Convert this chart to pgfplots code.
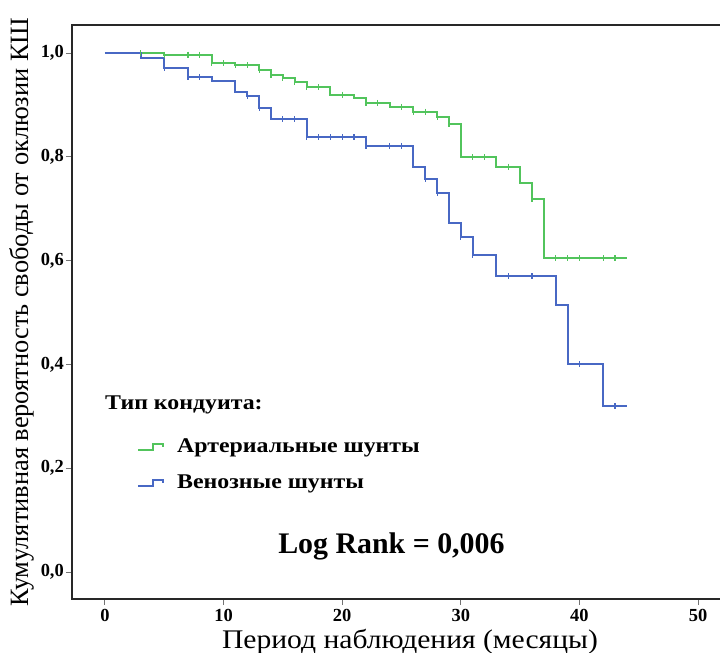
\documentclass[border=0pt]{standalone}
\usepackage{fontspec}
\setmainfont{Liberation Serif}
\newfontfamily\legfont{Liberation Serif}[FakeStretch=1.14]
\newfontfamily\labfont{Liberation Serif}[FakeStretch=1.1]
\usepackage{pgfplots}
\pgfplotsset{compat=1.18}
\definecolor{artgreen}{RGB}{82,196,92}
\definecolor{venblue}{RGB}{72,104,196}
\definecolor{frame}{RGB}{40,40,40}
\begin{document}
\begin{tikzpicture}
\begin{axis}[
  scale only axis,
  width=648bp, height=574bp,
  xmin=-2.78, xmax=51.85,
  ymin=-0.052, ymax=1.054,
  axis line style={draw=none},
  xtick={0,10,20,30,40,50},
  ytick={0,0.2,0.4,0.6,0.8,1.0},
  yticklabels={{0,0},{0,2},{0,4},{0,6},{0,8},{1,0}},
  tick pos=left,
  tick align=outside,
  major tick length=6bp,
  tick style={black!55, line width=1pt},
  /pgf/number format/assume math mode=true,
  ticklabel style={font=\bfseries\fontsize{18.5}{18.5}\selectfont},
  xticklabel style={inner sep=1bp, yshift=-3bp},
  yticklabel style={inner sep=2bp},
  xlabel={Период наблюдения (месяцы)},
  xlabel style={font=\labfont\fontsize{27}{27}\selectfont, at={([yshift=-49bp]rel axis cs:0.5216,0)}, anchor=base, inner sep=0pt},
  ylabel={Кумулятивная вероятность свободы от оклюзии КШ},
  ylabel style={font=\fontsize{26.5}{26.5}\selectfont, at={([xshift=-38bp]rel axis cs:0,0.5)}, anchor=south, inner sep=0pt},
  legend style={at={(rel axis cs:0.1003,0.281)}, anchor=north west, draw=none, fill=none,
    font=\legfont\bfseries\fontsize{21}{23}\selectfont, row sep=19bp, column sep=12bp, inner sep=0pt,
    nodes={inner sep=1bp}},
  legend cell align=left,
  legend image code/.code={\draw[#1, line width=2pt] (0bp,-3bp) -- (15bp,-3bp) -- (15bp,3bp) -- (25bp,3bp) -- (25bp,-0.5bp);},
  clip=false,
]
% Arterial grafts
\addplot[const plot, color=artgreen, line width=2pt] coordinates {
 (0,1.0) (5,0.997) (9,0.980) (11,0.976) (13,0.967) (14,0.958) (15,0.951) (16,0.945)
 (17,0.934) (19,0.920) (21,0.913) (22,0.904) (24,0.896) (26,0.887) (28,0.877) (29,0.863)
 (30,0.799) (33,0.781) (35,0.750) (36,0.718) (37,0.605) (44,0.605)};
\addlegendentry{Артериальные шунты}
% Venous grafts
\addplot[const plot, color=venblue, line width=2pt] coordinates {
 (0,1.0) (3,0.991) (5,0.972) (7,0.954) (9,0.947) (11,0.925) (12,0.918) (13,0.895)
 (14,0.872) (17,0.838) (22,0.821) (26,0.781) (27,0.757) (28,0.731) (29,0.673)
 (30,0.645) (31,0.611) (33,0.570) (38,0.514) (39,0.400) (42,0.319) (44,0.319)};
\addlegendentry{Венозные шунты}
% censored marks
\addplot[only marks, mark=|, mark size=3bp, color=artgreen, line width=1.2pt, forget plot] coordinates {
 (3,1.0) (5,0.997) (7,0.997) (8,0.997) (9,0.980) (10,0.980) (11,0.976) (12,0.976) (13,0.967)
 (14,0.958) (15,0.951) (16,0.945) (17,0.934) (18,0.934) (20,0.920) (22,0.904) (23,0.904)
 (25,0.896) (26,0.887) (27,0.887) (28,0.877) (29,0.863) (31,0.799) (32,0.799) (34,0.781)
 (36,0.718) (38,0.605) (39,0.605) (40,0.605) (42,0.605) (43,0.605)};
\addplot[only marks, mark=|, mark size=3bp, color=venblue, line width=1.2pt, forget plot] coordinates {
 (5,0.972) (7,0.954) (8,0.954) (12,0.918) (13,0.895) (15,0.872) (16,0.872) (17,0.838)
 (18,0.838) (19,0.838) (20,0.838) (21,0.838) (22,0.821) (24,0.821) (25,0.821) (27,0.757)
 (28,0.731) (30,0.645) (31,0.611) (34,0.570) (36,0.570) (40,0.400) (43,0.319)};
% frame (left, top, bottom)
\draw[frame, line width=2.2pt] (rel axis cs:1.02,1) -- (rel axis cs:0,1) -- (rel axis cs:0,0) -- (rel axis cs:1.02,0);
\node[anchor=west, inner sep=0pt, font=\legfont\bfseries\fontsize{21}{21}\selectfont] at (rel axis cs:0.0509,0.338) {Тип кондуита:};
\node[anchor=west, inner sep=0pt, font=\bfseries\fontsize{30}{30}\selectfont] at (rel axis cs:0.318,0.0923) {Log Rank = 0,006};
\end{axis}
\pgfresetboundingbox
\useasboundingbox (-72bp,-54bp) rectangle (648bp,599bp);
\end{tikzpicture}
\end{document}
